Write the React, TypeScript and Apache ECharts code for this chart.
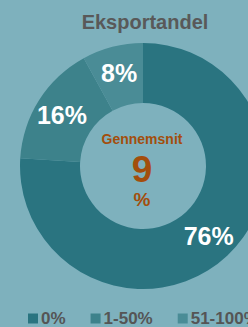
import React, { useEffect, useRef } from "react";
import * as echarts from "echarts";

const categories = ["0%", "1-50%", "51-100%"];
const values = [76, 16, 8];
const sliceColors = ["#2A7480", "#3D828B", "#4A8C96"];
const titleText = "Eksportandel";
const centerLabel = "Gennemsnit";
const centerValue = "9";
const centerUnit = "%";

export default function App() {
  const ref = useRef<HTMLDivElement>(null);
  useEffect(() => {
    document.body.style.margin = "0";
    const chart = echarts.init(ref.current!, null, { renderer: "svg" });
    const font = "'Liberation Sans', Arial, sans-serif";
    chart.setOption({
      animation: false,
      backgroundColor: "#7EB1BD",
      title: {
        text: titleText,
        left: 140,
        top: 7,
        textAlign: "center",
        textStyle: { fontFamily: font, fontSize: 20, fontWeight: "bold", color: "#595959" },
      },
      legend: {
        data: categories,
        left: 23,
        top: 305,
        width: 600,
        icon: "rect",
        itemWidth: 10,
        itemHeight: 10,
        itemGap: 25,
        textStyle: { fontFamily: font, fontSize: 17, fontWeight: "bold", color: "#555555", padding: [0, 0, 0, -2] },
      },
      graphic: [
        {
          type: "text",
          x: 142,
          y: 139,
          style: {
            text: centerLabel,
            fill: "#A34E0C",
            font: `bold 14px ${font}`,
            align: "center",
            verticalAlign: "middle",
          },
        },
        {
          type: "text",
          x: 142,
          y: 169,
          style: {
            text: centerValue,
            fill: "#A34E0C",
            font: `bold 37px ${font}`,
            align: "center",
            verticalAlign: "middle",
          },
        },
        {
          type: "text",
          x: 142,
          y: 199,
          style: {
            text: centerUnit,
            fill: "#A34E0C",
            font: `bold 19px ${font}`,
            align: "center",
            verticalAlign: "middle",
          },
        },
      ],
      series: [
        {
          type: "pie",
          center: [143, 166],
          radius: [63, 123],
          startAngle: 90,
          clockwise: true,
          avoidLabelOverlap: false,
          emphasis: { disabled: true },
          label: {
            show: true,
            position: "inside",
            formatter: "{c}%",
            color: "#FFFFFF",
            fontFamily: font,
            fontSize: 25,
            fontWeight: "bold",
          },
          labelLine: { show: false },
          data: categories.map((name, i) => ({
            name,
            value: values[i],
            itemStyle: { color: sliceColors[i] },
          })),
        },
      ],
    });
    return () => chart.dispose();
  }, []);
  return <div ref={ref} style={{ width: 248, height: 327 }} />;
}
